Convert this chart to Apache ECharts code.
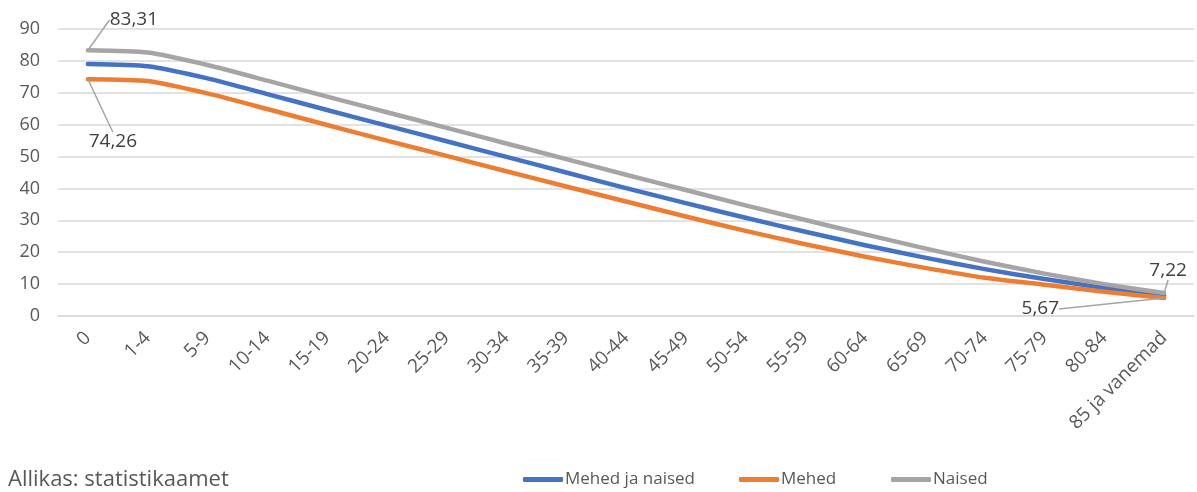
<!DOCTYPE html>
<html>
<head>
<meta charset="utf-8">
<script src="https://cdn.jsdelivr.net/npm/echarts@6/dist/echarts.min.js"></script>
<style>html,body{margin:0;padding:0;background:#fff}#c{width:1197px;height:492px}</style>
</head>
<body>
<div id="c"></div>
<script>
const categories = ['0','1-4','5-9','10-14','15-19','20-24','25-29','30-34','35-39','40-44','45-49','50-54','55-59','60-64','65-69','70-74','75-79','80-84','85 ja vanemad'];
const yTicks = [0,10,20,30,40,50,60,70,80,90];
const mehedJaNaised = [79.0,78.3,74.5,69.6,64.6,59.7,54.8,49.9,45.0,40.1,35.4,30.8,26.4,22.2,18.3,14.7,11.6,8.8,6.5];
const mehed = [74.26,73.7,69.8,64.9,59.9,55.0,50.2,45.4,40.6,35.9,31.2,26.7,22.5,18.6,15.1,12.0,9.8,7.6,5.67];
const naised = [83.31,82.6,78.7,73.8,68.8,63.9,59.0,54.1,49.2,44.3,39.5,34.7,30.1,25.6,21.2,17.0,13.3,10.0,7.22];
const seriesNames = ['Mehed ja naised','Mehed','Naised'];
const colors = ['#4472C4','#ED7D31','#A5A5A5'];

const font = 'Open Sans, Liberation Sans, sans-serif';
const fmt = v => String(v).replace('.', ',');
const labelStyle = {color:'#404040', fontSize:19, fontFamily:font};

function withLabels(arr, first, last){
  const item = (v, cfg) => ({value:v,
    label:Object.assign({show:true, formatter:p=>fmt(p.value)}, labelStyle, cfg),
    labelLine:{show:true, lineStyle:{color:'#A5A5A5', width:1.5}}});
  return arr.map((v,i)=>{
    if(i===0 && first) return item(v, first);
    if(i===arr.length-1 && last) return item(v, last);
    return v;
  });
}

const chart = echarts.init(document.getElementById('c'), null, {renderer:'canvas'});
const mk = (name, data, color, layout) => ({
  name, type:'line', data, smooth:0.2, symbol:'circle', symbolSize:0.1, showSymbol:true,
  lineStyle:{color, width:4.5, cap:'round', join:'round'}, itemStyle:{color},
  emphasis:{disabled:true},
  labelLayout: layout
});
const leg = (i, left) => ({left, top:466, itemWidth:40, itemHeight:5, icon:'roundRect',
    textStyle:{color:'#595959', fontSize:17, fontFamily:font, padding:[0,0,0,-3]},
    data:[seriesNames[i]]});
chart.setOption({
  animation:false,
  color: colors,
  title:{text:'Allikas: statistikaamet', left:3, top:464, textStyle:{color:'#595959', fontSize:22, fontWeight:'normal', fontFamily:font}},
  legend:[leg(0,518), leg(1,734), leg(2,886)],
  grid:{left:58, right:3, top:29, bottom:176},
  xAxis:{type:'category', data:categories, boundaryGap:true,
    axisLine:{lineStyle:{color:'#D9D9D9', width:1.5}}, axisTick:{show:false},
    axisLabel:{rotate:45, color:'#595959', fontSize:19, fontFamily:font, margin:19, interval:0}},
  yAxis:{type:'value', min:yTicks[0], max:yTicks[yTicks.length-1], interval:10,
    axisLine:{show:false}, axisTick:{show:false},
    splitLine:{lineStyle:{color:'#D9D9D9', width:1.5}},
    axisLabel:{color:'#595959', fontSize:18, fontFamily:font, margin:18}},
  series:[
    mk(seriesNames[0], mehedJaNaised, colors[0]),
    mk(seriesNames[1], withLabels(mehed, {position:'bottom'}, {position:'left'}), colors[1],
      p => p.dataIndex===0 ? {dx:25, dy:48} : (p.dataIndex===mehed.length-1 ? {dx:-100, dy:11} : null)),
    mk(seriesNames[2], withLabels(naised, {position:'top'}, {position:'top'}), colors[2],
      p => p.dataIndex===0 ? {dx:46, dy:-16} : (p.dataIndex===naised.length-1 ? {dx:4, dy:-8} : null))
  ]
});
</script>
</body>
</html>
